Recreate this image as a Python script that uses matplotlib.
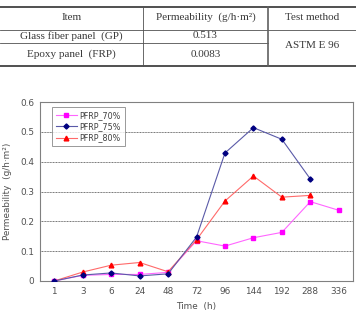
import matplotlib
matplotlib.use("Agg")
import matplotlib.pyplot as plt
from matplotlib.lines import Line2D

W, H = 356, 312
DPI = 100

# ---- data ----
table_header = ["Item", "Permeability  (g/h\u00b7m\u00b2)", "Test method"]
table_items = ["Glass fiber panel  (GP)", "Epoxy panel  (FRP)"]
table_values = ["0.513", "0.0083"]
table_method = "ASTM E 96"

time_labels = ["1", "3", "6", "24", "48", "72", "96", "144", "192", "288", "336"]
pfrp70 = [0.0, 0.019, 0.022, 0.022, 0.029, 0.135, 0.117, 0.145, 0.163, 0.266, 0.237]
pfrp75 = [0.0, 0.020, 0.027, 0.017, 0.024, 0.147, 0.429, 0.514, 0.475, 0.342]
pfrp80 = [0.0, 0.030, 0.053, 0.062, 0.031, 0.138, 0.268, 0.352, 0.281, 0.287]
series_names = ["PFRP_70%", "PFRP_75%", "PFRP_80%"]

fig = plt.figure(figsize=(W / DPI, H / DPI), dpi=DPI)

def fx(x):
    return x / W

def fy(y):
    return 1 - y / H

def hline(x0, x1, y, lw=0.8, c="#404040"):
    fig.add_artist(Line2D([fx(x0), fx(x1)], [fy(y), fy(y)], lw=lw, color=c,
                          transform=fig.transFigure))

def vline(x, y0, y1, lw=0.8, c="#404040"):
    fig.add_artist(Line2D([fx(x), fx(x)], [fy(y0), fy(y1)], lw=lw, color=c,
                          transform=fig.transFigure))

# ---- table ----
serif = ["Liberation Serif", "DejaVu Serif"]
tcol = "#383838"
hline(0, W, 7, lw=1.4, c="#505050")
hline(0, W, 29.5, lw=0.6, c="#505050")
hline(0, 268, 42.5, lw=0.6, c="#505050")
hline(0, W, 65.5, lw=1.4, c="#505050")
vline(143, 7, 65.5, lw=0.6, c="#505050")
vline(268, 7, 65.5, lw=1.2, c="#606060")

fs_t = 8.0
cx = [71.5, 205.5, 312]
for x, t in zip(cx, table_header):
    fig.text(fx(x), fy(17.5), t, ha="center", va="center", fontsize=fs_t,
             family=serif, color=tcol)
for i, (it, v) in enumerate(zip(table_items, table_values)):
    y = [36, 54.5][i]
    fig.text(fx(cx[0]), fy(y), it, ha="center", va="center", fontsize=fs_t,
             family=serif, color=tcol)
    fig.text(fx(cx[1]), fy(y), v, ha="center", va="center", fontsize=fs_t,
             family=serif, color=tcol)
fig.text(fx(cx[2]), fy(46), table_method, ha="center", va="center", fontsize=fs_t,
         family=serif, color=tcol)

# ---- chart ----
ax_l, ax_r, ax_t, ax_b = 40, 353, 102, 281
ax = fig.add_axes([fx(ax_l), fy(ax_b), fx(ax_r - ax_l), (ax_b - ax_t) / H])

x70 = list(range(len(pfrp70)))
x75 = list(range(len(pfrp75)))
x80 = list(range(len(pfrp80)))

ax.plot(x70, pfrp70, color="#ff66ff", lw=0.8, marker="s", ms=3.2,
        mfc="#ff00ff", mec="#ff00ff", label=series_names[0], zorder=3)
ax.plot(x75, pfrp75, color="#5a5aa8", lw=0.8, marker="D", ms=2.6,
        mfc="#000080", mec="#000080", label=series_names[1], zorder=4)
ax.plot(x80, pfrp80, color="#ff6a6a", lw=0.8, marker="^", ms=3.4,
        mfc="#ff0000", mec="#ff0000", label=series_names[2], zorder=3)

ax.set_xlim(-0.5, len(time_labels) - 0.5)
ax.set_ylim(0, 0.6)
ax.set_xticks(range(len(time_labels)))
ax.set_xticklabels(time_labels)
ax.set_yticks([0, 0.1, 0.2, 0.3, 0.4, 0.5, 0.6])
ax.set_yticklabels(["0", "0.1", "0.2", "0.3", "0.4", "0.5", "0.6"])
ax.tick_params(axis="both", length=0, labelsize=6.4, colors="#505050", pad=4)

for v in [0.1, 0.2, 0.3, 0.4, 0.5]:
    ax.axhline(v, color="#707070", lw=0.7, ls=(0, (1, 0.6)), zorder=1)

for s in ["left", "bottom", "right", "top"]:
    ax.spines[s].set_color("#808080")
    ax.spines[s].set_linewidth(0.8)

ax.set_xlabel("Time  (h)", fontsize=6.4, color="#505050", labelpad=5)
ax.set_ylabel("Permeability  (g/h\u00b7m\u00b2)", fontsize=6.4, color="#505050",
              labelpad=6)

leg = ax.legend(loc="upper left", bbox_to_anchor=((52 - ax_l) / (ax_r - ax_l),
                1 - (107 - ax_t) / (ax_b - ax_t)),
                fontsize=5.8, frameon=True, fancybox=False, borderpad=0.45,
                handlelength=2.6, handletextpad=0.35, labelspacing=0.3,
                borderaxespad=0)
leg.get_frame().set_edgecolor("#808080")
leg.get_frame().set_linewidth(0.7)
for t in leg.get_texts():
    t.set_color("#404040")

fig.savefig("out.png", dpi=DPI)
